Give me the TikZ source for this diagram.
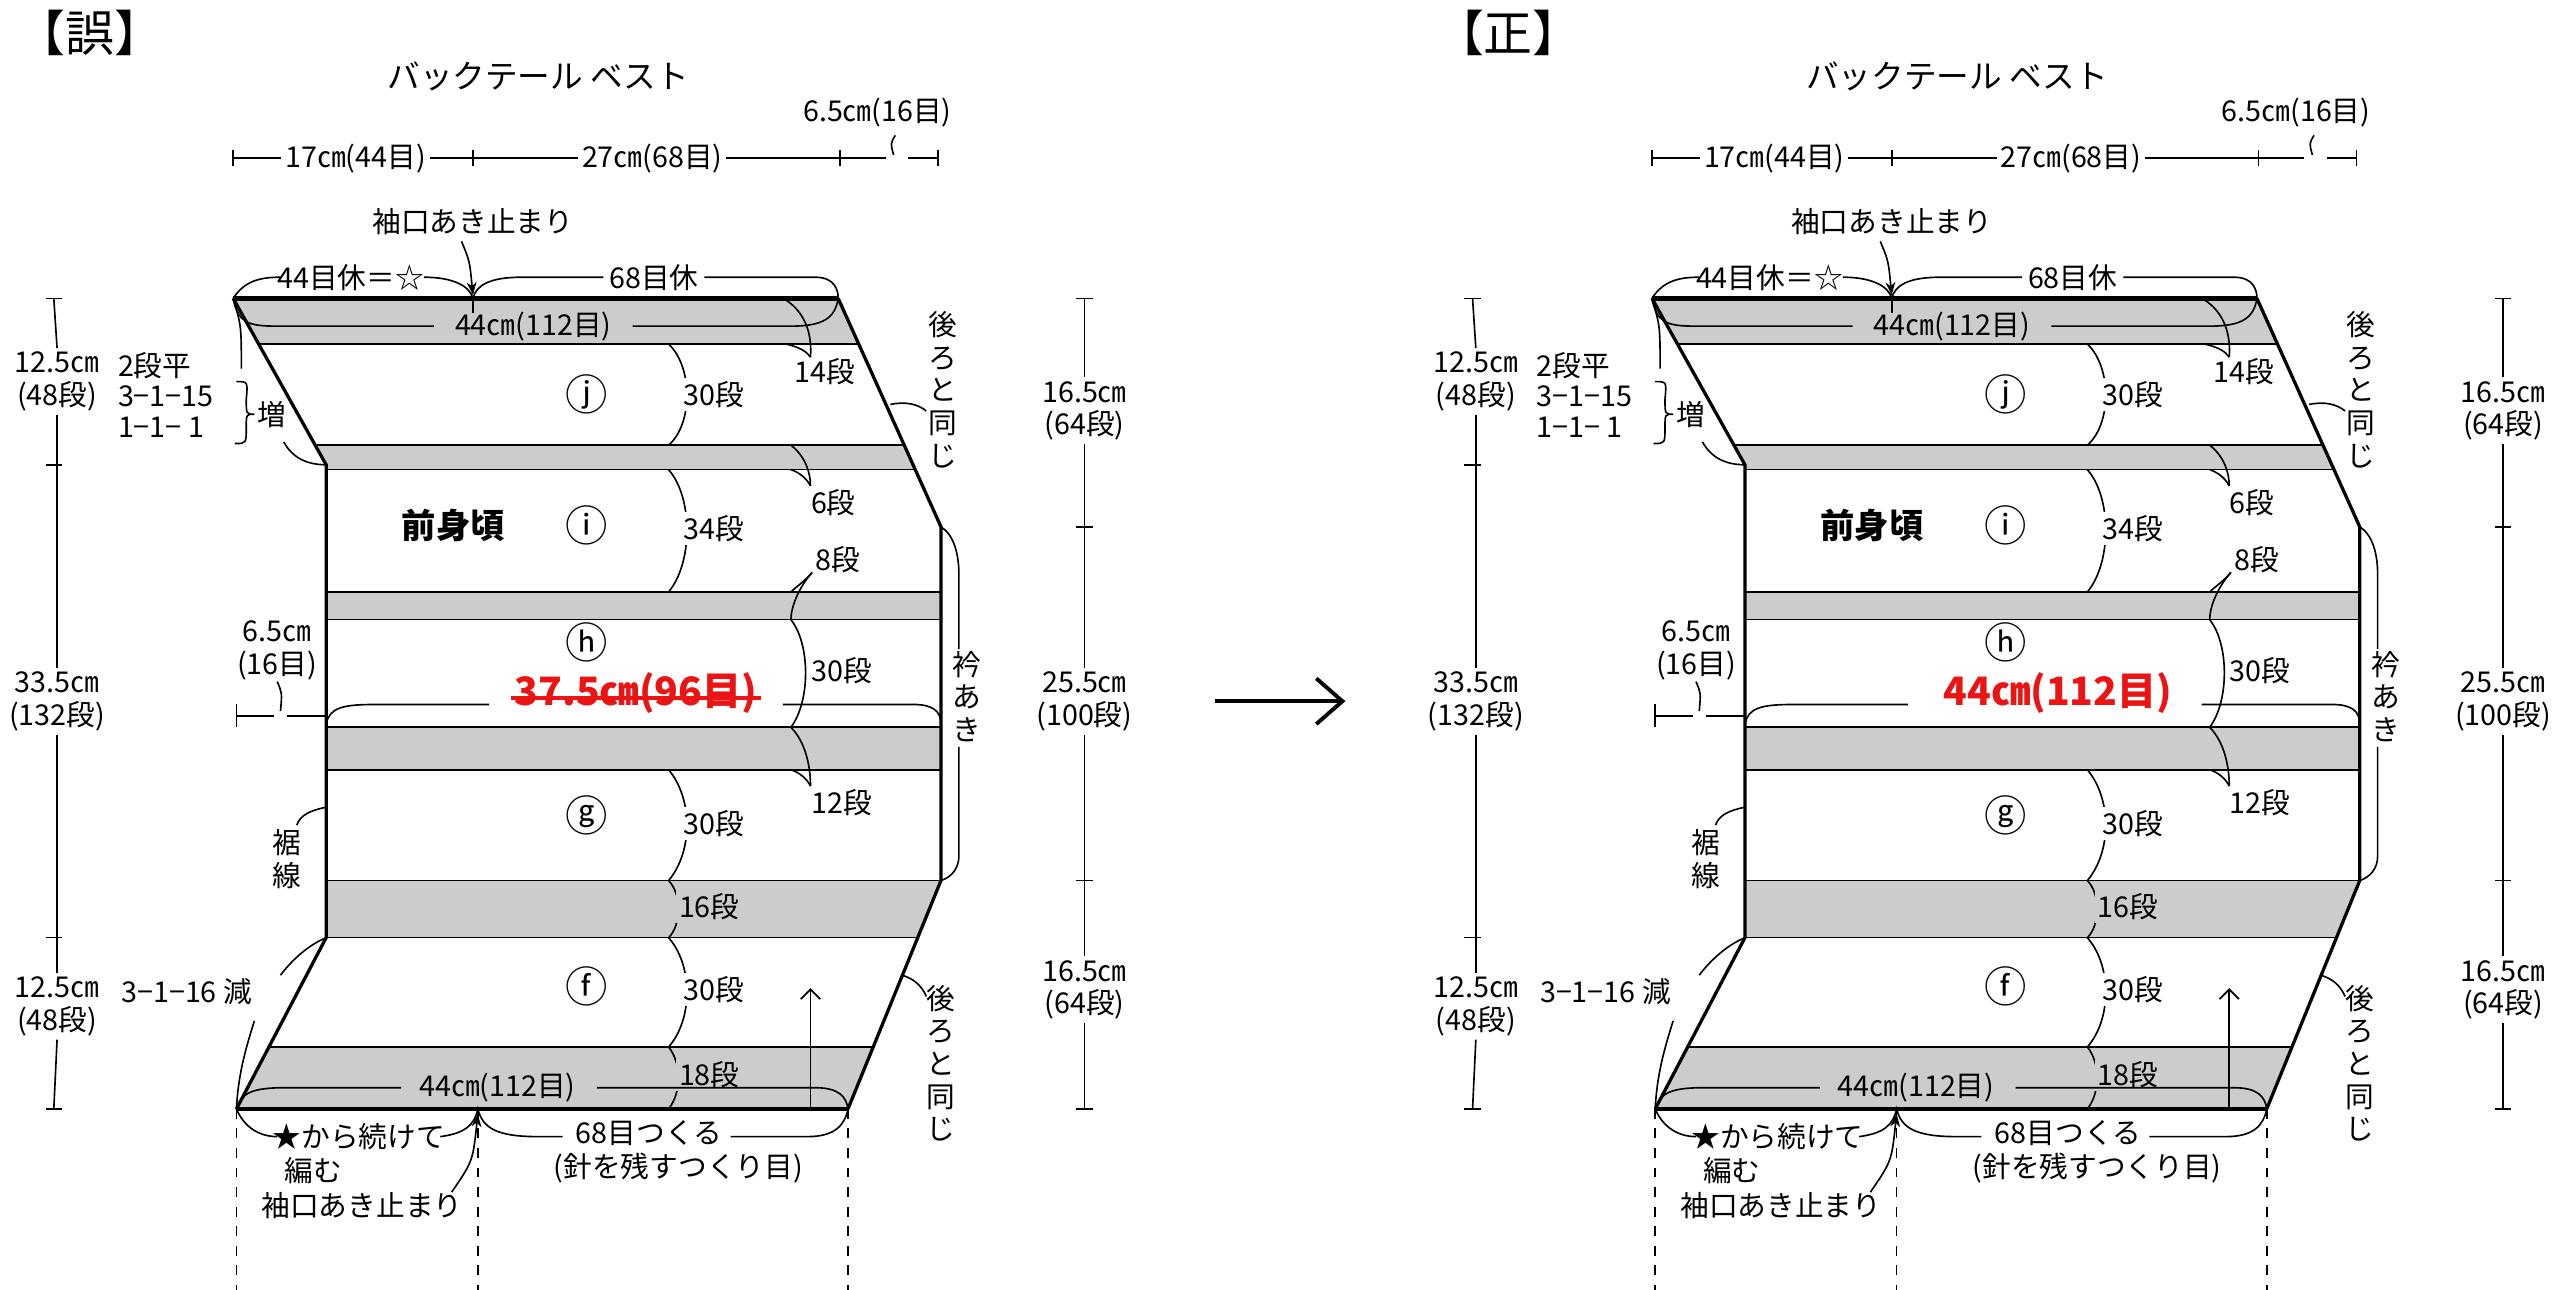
\documentclass[tikz,border=0pt]{standalone}
\usepackage{fontspec}
\setmainfont{Noto Sans CJK JP}
\usetikzlibrary{arrows.meta}

\definecolor{band}{gray}{0.8}
\definecolor{mistake}{RGB}{235,20,20}

\tikzset{
  lbl/.style={font=\fontsize{8.8}{10}\selectfont, inner sep=1pt},
  vlbl/.style={lbl, align=center, text width=10pt},
  part/.style={font=\fontsize{13}{14}\selectfont, inner sep=0pt},
  edgeline/.style={line width=1.4pt},
  thin/.style={line width=0.5pt},
  dim/.style={line width=0.5pt},
}

% one pattern piece: #1 name, #2 shift, #3 centre label
\newcommand\vestpanel[3]{%
\begin{scope}[xshift=#2*0.5pt]
  % corners
  \coordinate (#1-a) at (143,183);
  \coordinate (#1-b) at (514,183);
  \coordinate (#1-c) at (200,285);
  \coordinate (#1-d) at (577,323);
  \coordinate (#1-e) at (577,540);
  \coordinate (#1-f) at (200,575);
  \coordinate (#1-g) at (145,680);
  \coordinate (#1-h) at (520,680);

  % grey bands
  \fill[band] (#1-a) -- (#1-b) -- (526.6,211) -- (158.6,211) -- cycle;
  \fill[band] (193,273) -- (554.5,273) -- (561,288) -- (200,288) -- (#1-c) -- cycle;
  \fill[band] (200,363) rectangle (577,380);
  \fill[band] (200,446) rectangle (577,472);
  \fill[band] (200,540) -- (#1-e) -- (563,575) -- (#1-f) -- cycle;
  \fill[band] (165,642) -- (535.5,642) -- (#1-h) -- (#1-g) -- cycle;
  \begin{scope}[thin]
    \draw (158.6,211) -- (526.6,211);
    \draw (193,273) -- (554.5,273);
    \draw (200,288) -- (561,288);
    \draw (200,363) -- (577,363);  \draw (200,380) -- (577,380);
    \draw (200,446) -- (577,446);  \draw (200,472) -- (577,472);
    \draw (200,540) -- (577,540);  \draw (200,575) -- (563,575);
    \draw (165,642) -- (535.5,642);
  \end{scope}

  % outline
  \draw[line width=1pt, line join=miter] (#1-b) -- (#1-d) -- (#1-e) -- (#1-h)
        (#1-g) -- (#1-f) -- (#1-c) -- (#1-a);
  \draw[edgeline] (#1-a) -- (#1-b);
  \draw[edgeline] (#1-g) -- (#1-h);

  % row counts down the middle
  \begin{scope}[thin]
    \draw (410,211) .. controls (425,225) and (425,260) .. (410,273);
    \draw (410,288) .. controls (425,305) and (425,345) .. (410,363);
    \draw (410,472) .. controls (425,490) and (425,522) .. (410,540);
    \draw (410,540) .. controls (418,548) and (418,567) .. (410,575);
    \draw (410,575) .. controls (425,592) and (425,625) .. (410,642);
    \draw (410,642) .. controls (418,652) and (418,670) .. (410,680);
  \end{scope}
  \begin{scope}[every node/.style={lbl, anchor=west}]
    \node[fill=white] (#1-r1) at (417,242) {30段};
    \node[fill=white] (#1-r2) at (417,324) {34段};
    \node[fill=white] (#1-r3) at (417,505) {30段};
    \node[fill=band]  (#1-r4) at (414,556) {16段};
    \node[fill=white] (#1-r5) at (417,607) {30段};
    \node[fill=band]  (#1-r6) at (414,659) {18段};
  \end{scope}

  % row counts on the right
  \begin{scope}[thin]
    \draw (482,184) .. controls (494,192) and (498,205) .. (497,219);
    \draw (482,211) .. controls (491,213) and (495,216) .. (497,219);
    \draw (485,273) .. controls (494,280) and (497,290) .. (497,298);
    \draw (485,288) .. controls (491,290) and (495,294) .. (497,298);
    \draw (498,351) .. controls (494,356) and (488,360) .. (485,363);
    \draw (498,351) .. controls (490,360) and (485,372) .. (485,380);
    \draw (485,380) .. controls (497,395) and (497,430) .. (485,446);
    \draw (485,446) .. controls (494,455) and (497,470) .. (497,482);
    \draw (485,472) .. controls (491,474) and (495,478) .. (497,482);
  \end{scope}
  \begin{scope}[every node/.style={lbl}]
    \node (#1-s14) at (506,228) {14段};
    \node (#1-s6)  at (511,308) {6段};
    \node (#1-s8)  at (514,343) {8段};
    \node[fill=white] (#1-s30) at (516,411) {30段};
    \node (#1-s12) at (516,492) {12段};
    \node[font=\fontsize{10.5}{11}\selectfont\bfseries] (#1-name) at (278,322) {前身頃};
  \end{scope}
  % section letters
  \begin{scope}[every node/.style={part}]
    \node (#1-j) at (360,242) {ⓙ};
    \node (#1-i) at (360,322) {ⓘ};
    \node (#1-hh) at (360,394) {ⓗ};
    \node (#1-gg) at (360,500) {ⓖ};
    \node (#1-ff) at (360,605) {ⓕ};
  \end{scope}

  % top edge notes
  \draw[thin] (#1-a) .. controls (150,172) and (160,170) .. (172,170);
  \draw[thin] (260,170) .. controls (277,170) and (288,175) .. (290,183)
              .. controls (292,175) and (300,170) .. (320,170) -- (370,170);
  \draw[thin] (432,170) -- (500,170) .. controls (512,170) and (514,178) .. (#1-b);
  \node[lbl] (#1-rest44) at (215,170) {44目休＝☆};
  \node[lbl] (#1-rest68) at (401,170) {68目休};
  \node[lbl] (#1-cuff) at (290,136) {袖口あき止まり};
  \draw[thin, -{Stealth[length=4pt, width=3pt]}] (283,148) .. controls (288,160) .. (290,181);
  \draw[thin] (290,183) -- (290,192);
  \draw[thin] (#1-a) .. controls (146,198) and (152,200) .. (170,200) -- (266,200);
  \draw[thin] (388,200) -- (485,200) .. controls (505,200) and (512,195) .. (#1-b);
  \node[lbl] (#1-w1) at (327,200) {44㎝(112目)};

  % bottom edge notes
  \draw[thin] (#1-g) .. controls (148,670) and (155,667) .. (175,667) -- (246,667);
  \draw[thin] (366,667) -- (500,667) .. controls (515,667) and (519,673) .. (#1-h);
  \node[lbl] (#1-w2) at (305,667) {44㎝(112目)};
  \draw[thin] (#1-g) .. controls (150,692) and (160,697) .. (170,697);
  \draw[thin] (270,697) .. controls (285,695) and (291,690) .. (293,680)
              .. controls (296,692) and (305,697) .. (330,697) -- (345,697);
  \draw[thin] (448,697) -- (495,697) .. controls (512,697) and (518,690) .. (#1-h);
  \node[lbl] (#1-cont) at (220,697) {★から続けて};
  \node[lbl, anchor=west] (#1-knit) at (172,718) {編む};
  \node[lbl] (#1-cuff2) at (222,739) {袖口あき止まり};
  \draw[thin, -{Stealth[length=4pt, width=3pt]}] (277,731) .. controls (290,712) .. (293,683);
  \node[lbl] (#1-cast) at (398,695) {68目つくる};
  \node[lbl] (#1-cast2) at (416,716) {(針を残すつくり目)};
  \draw[thin, -{Straight Barb[length=3pt]}] (497,680) -- (497,606);
  \begin{scope}[thin, dashed]
    \draw (#1-g) -- (145,791);
    \draw (293,680) -- (293,791);
    \draw (#1-h) -- (520,791);
  \end{scope}

  % left side notes
  \draw[thin] (#1-a) .. controls (148,200) .. (148,226);
  \draw[thin] (174,271) .. controls (180,282) and (190,285) .. (#1-c);
  \node[lbl, anchor=west] (#1-inc1) at (70,224) {2段平};
  \node[lbl, anchor=west] (#1-inc2) at (70,243) {3−1−15};
  \node[lbl, anchor=west] (#1-inc3) at (70,262) {1−1− 1};
  \draw[thin] (145,234) .. controls (152,234) .. (151,245) .. controls (151,254) .. (156,254)
              .. controls (151,254) .. (151,262) .. controls (151,272) .. (144,272);
  \node[lbl] (#1-inc) at (167,254) {増};
  \node[vlbl] (#1-hem) at (176,527) {裾\\線};
  \draw[thin] (200,495) .. controls (190,497) and (184,500) .. (182,506);
  \node[lbl, anchor=west] (#1-dec) at (72,608) {3−1−16 減};
  \draw[thin] (#1-f) .. controls (188,580) and (178,590) .. (172,598);
  \draw[thin] (156,626) .. controls (150,645) and (146,660) .. (#1-g);
  \node[lbl] (#1-nk1) at (170,387) {6.5㎝};
  \node[lbl] (#1-nk2) at (170,408) {(16目)};
  \draw[dim] (145,432) -- (145,446);
  \draw[dim] (145,439) -- (168,439);
  \draw[dim] (176,439) -- (#1-c |- 0,439);
  \draw[thin] (170,418) .. controls (173,425) .. (172,436);
  \draw[thin] (#1-c |- 0,444) .. controls (202,434) and (210,432) .. (230,432) -- (300,432);
  \draw[thin] (480,432) -- (560,432) .. controls (572,432) and (577,436) .. (#1-e |- 0,444);
  #3

  % right side notes
  \node[vlbl] (#1-back1) at (578,239) {後\\ろ\\と\\同\\じ};
  \draw[thin] (546,248) .. controls (556,246) and (563,248) .. (568,252);
  \node[vlbl] (#1-back2) at (577,652) {後\\ろ\\と\\同\\じ};
  \draw[thin] (553,598) .. controls (560,600) and (565,604) .. (568,611);
  \node[vlbl] (#1-neck) at (593,427) {衿\\あ\\き};
  \draw[thin] (#1-d) .. controls (585,328) and (588,340) .. (588,352) -- (588,398);
  \draw[thin] (588,458) -- (588,525) .. controls (588,533) and (583,538) .. (#1-e);

  % width dimensions
  \node[font=\fontsize{10}{11}\selectfont] (#1-title) at (330,47) {バックテール ベスト};
  \node[lbl] (#1-d17) at (218,97) {17㎝(44目)};
  \node[lbl] (#1-d27) at (400,97) {27㎝(68目)};
  \node[lbl] (#1-d65) at (538,69) {6.5㎝(16目)};
  \draw[dim] (143,97) -- (#1-d17.west);
  \draw[dim] (#1-d17.east) -- (#1-d27.west);
  \draw[dim] (#1-d27.east) -- (543,97);
  \draw[dim] (557,97) -- (575,97);
  \draw[thin] (549,83) .. controls (546,88) .. (548,95);
  \foreach \x in {143,575} \draw[dim] (\x,92) -- (\x,102);
  \foreach \x in {290,515} \draw[dim] (\x,92) -- (\x,102);

  % height dimensions
  \begin{scope}[every node/.style={lbl, align=center}]
    \node (#1-h1) at (35,234) {12.5㎝\\(48段)};
    \node (#1-h2) at (35,430) {33.5㎝\\(132段)};
    \node (#1-h3) at (35,617) {12.5㎝\\(48段)};
    \node (#1-k1) at (665,252) {16.5㎝\\(64段)};
    \node (#1-k2) at (665,430) {25.5㎝\\(100段)};
    \node (#1-k3) at (665,607) {16.5㎝\\(64段)};
  \end{scope}
  \begin{scope}[dim]
    \draw (33,183) -- (#1-h1.north); \draw (#1-h1.south) -- (#1-h2.north);
    \draw (#1-h2.south) -- (#1-h3.north); \draw (#1-h3.south) -- (33,680);
    \foreach \y in {183,285,575,680} \draw (28,\y) -- (38,\y);
    \draw (665,183) -- (#1-k1.north); \draw (#1-k1.south) -- (#1-k2.north);
    \draw (#1-k2.south) -- (#1-k3.north); \draw (#1-k3.south) -- (665,680);
    \foreach \y in {183,323,540,680} \draw (660,\y) -- (670,\y);
  \end{scope}
\end{scope}}

\begin{document}
\begin{tikzpicture}[x=0.5pt, y=-0.5pt]
  \useasboundingbox (0,0) rectangle (1568,791);

  \node[font=\fontsize{15}{16}\selectfont] (wrong) at (55,20) {【誤】};
  \node[font=\fontsize{15}{16}\selectfont] (right) at (925,20) {【正】};

  \vestpanel{L}{0}{%
    \node[lbl, font=\fontsize{12}{13}\selectfont\bfseries, text=mistake] (L-bust) at (390,425) {37.5㎝(96目)};
    \draw[mistake, line width=1pt] (L-bust.west |- 0,428) -- (L-bust.east |- 0,428);}
  \vestpanel{R}{870}{%
    \node[lbl, font=\fontsize{12}{13}\selectfont\bfseries, text=mistake] (R-bust) at (392,425) {44㎝(112目)};}

  \coordinate (from) at (745,430);
  \coordinate (to) at (825,430);
  \draw[line width=1.2pt, -{Straight Barb[length=8pt, width=14pt]}] (from) -- (to);
\end{tikzpicture}
\end{document}
